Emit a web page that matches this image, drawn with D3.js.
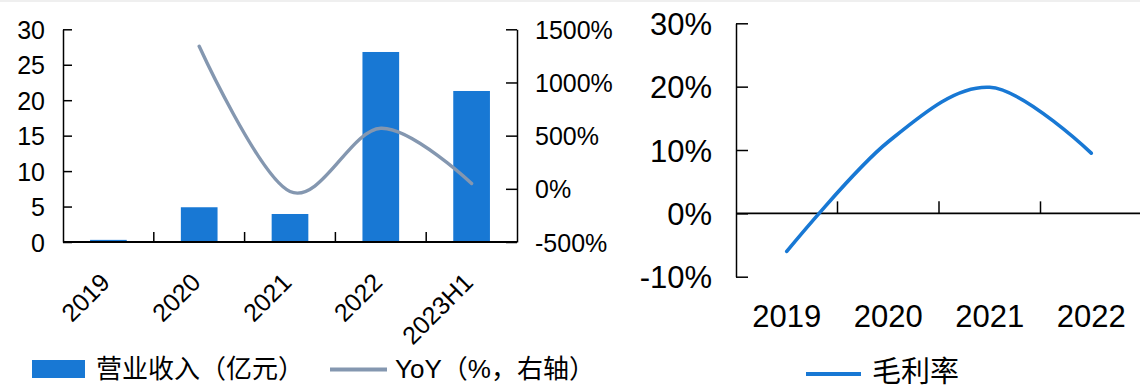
<!DOCTYPE html>
<html>
<head>
<meta charset="utf-8">
<script src="https://cdn.jsdelivr.net/npm/d3@7"></script>
<style>
  html, body { margin: 0; padding: 0; background: #fff; }
  svg { display: block; }
  text { font-family: "Liberation Sans", Arial, "Noto Sans CJK SC", sans-serif; fill: #000; }
</style>
</head>
<body>
<svg id="chart" width="1140" height="387"></svg>
<script>
// Revenue and growth
const years = ["2019", "2020", "2021", "2022", "2023H1"];
const revenue = [0.3, 4.9, 3.95, 26.8, 21.3];            // 亿元
const yoyYears = ["2020", "2021", "2022", "2023H1"];
const yoy = [1340, -25, 570, 50];                          // %
const revenueTicks = [0, 5, 10, 15, 20, 25, 30];
const yoyTicks = [-500, 0, 500, 1000, 1500];

// Gross margin
const marginYears = ["2019", "2020", "2021", "2022"];
const margin = [-6.0, 11.3, 19.9, 9.5];                    // %
const marginTicks = [-10, 0, 10, 20, 30];

const blue = "#1878D4";
const slate = "#8497B0";

const svg = d3.select("#chart");

// thin grey strip along the top edge
svg.append("rect").attr("x", 0).attr("y", 0).attr("width", 1140).attr("height", 2).attr("fill", "#efefef");

// ---------- left panel: revenue bars + YoY line ----------
const L = { x0: 63, x1: 517, top: 29.3, base: 242 };
const x = d3.scaleBand().domain(years).range([L.x0, L.x1]).padding(0);
const yL = d3.scaleLinear().domain([0, 30]).range([L.base, L.top]);
const yR = d3.scaleLinear().domain([-500, 1500]).range([L.base, L.top]);

const left = svg.append("g");
const barW = x.bandwidth() * 0.404;

left.selectAll("rect.bar").data(years).join("rect")
  .attr("class", "bar")
  .attr("x", d => x(d) + (x.bandwidth() - barW) / 2)
  .attr("width", barW)
  .attr("y", (d, i) => yL(revenue[i]))
  .attr("height", (d, i) => yL(0) - yL(revenue[i]))
  .attr("fill", blue);

const yoyLine = d3.line()
  .x((d, i) => x(yoyYears[i]) + x.bandwidth() / 2)
  .y(d => yR(d))
  .curve(d3.curveCardinal.tension(0));

left.append("path").datum(yoy)
  .attr("d", yoyLine)
  .attr("fill", "none")
  .attr("stroke", slate)
  .attr("stroke-width", 3.4)
  .attr("stroke-linecap", "round");

// left axis
const axL = left.append("g").attr("transform", `translate(${L.x0},0)`)
  .call(d3.axisLeft(yL).tickValues(revenueTicks).tickSize(-9).tickSizeOuter(0).tickPadding(18));
// right axis
const axR = left.append("g").attr("transform", `translate(${L.x1},0)`)
  .call(d3.axisRight(yR).tickValues(yoyTicks).tickSize(-11).tickSizeOuter(0).tickPadding(18)
    .tickFormat(d => d + "%"));
[axL, axR].forEach(a => {
  a.attr("font-size", null).attr("font-family", null);
  a.selectAll("path.domain").attr("stroke", "#000").attr("stroke-width", 1.5);
  a.selectAll(".tick line").attr("stroke", "#000").attr("stroke-width", 1.5);
  a.selectAll(".tick text").style("font-size", "25px").attr("dy", "0.36em");
});

// category axis
left.append("line")
  .attr("x1", L.x0).attr("x2", L.x1).attr("y1", L.base).attr("y2", L.base)
  .attr("stroke", "#000").attr("stroke-width", 1.8);
left.selectAll("line.xtick").data(years.slice(1)).join("line")
  .attr("class", "xtick")
  .attr("x1", d => x(d)).attr("x2", d => x(d))
  .attr("y1", L.base).attr("y2", L.base - 10)
  .attr("stroke", "#000").attr("stroke-width", 1.5);
left.selectAll("text.xlab").data(years).join("text")
  .attr("class", "xlab")
  .attr("transform", d => `translate(${x(d) + x.bandwidth() / 2 + 3},284) rotate(-45)`)
  .attr("text-anchor", "end")
  .style("font-size", "25px")
  .text(d => d);

// legend (left)
const lg = svg.append("g");
lg.append("rect").attr("x", 32).attr("y", 360).attr("width", 53).attr("height", 18).attr("fill", blue);
lg.append("text").attr("x", 96).attr("y", 369).attr("dy", "0.36em").style("font-size", "26px")
  .text("营业收入（亿元）");
lg.append("line").attr("x1", 330).attr("x2", 387).attr("y1", 369.5).attr("y2", 369.5)
  .attr("stroke", slate).attr("stroke-width", 4);
lg.append("text").attr("x", 395).attr("y", 369).attr("dy", "0.36em").style("font-size", "26px")
  .text("YoY（%，右轴）");

// ---------- right panel: gross margin ----------
const R = { x0: 736, x1: 1142, top: 23.3, bottom: 276.7 };
const gx = d3.scaleBand().domain(marginYears).range([R.x0, R.x1]).padding(0);
const gy = d3.scaleLinear().domain([-10, 30]).range([R.bottom, R.top]);

const right = svg.append("g");
const axG = right.append("g").attr("transform", `translate(${R.x0},0)`)
  .call(d3.axisLeft(gy).tickValues(marginTicks).tickSize(-12).tickSizeOuter(0).tickPadding(24)
    .tickFormat(d => d + "%"));
axG.attr("font-size", null).attr("font-family", null);
axG.selectAll("path.domain").attr("stroke", "#000").attr("stroke-width", 1.5);
axG.selectAll(".tick line").attr("stroke", "#000").attr("stroke-width", 1.5);
axG.selectAll(".tick text").style("font-size", "31px").attr("dy", "0.36em");

right.append("line")
  .attr("x1", R.x0).attr("x2", 1140).attr("y1", gy(0)).attr("y2", gy(0))
  .attr("stroke", "#000").attr("stroke-width", 1.8);
right.selectAll("line.gtick").data(marginYears.slice(1)).join("line")
  .attr("class", "gtick")
  .attr("x1", d => gx(d)).attr("x2", d => gx(d))
  .attr("y1", gy(0)).attr("y2", gy(0) - 12)
  .attr("stroke", "#000").attr("stroke-width", 1.5);
right.selectAll("text.glab").data(marginYears).join("text")
  .attr("class", "glab")
  .attr("x", d => gx(d) + gx.bandwidth() / 2)
  .attr("y", 327)
  .attr("text-anchor", "middle")
  .style("font-size", "31px")
  .text(d => d);

const marginLine = d3.line()
  .x((d, i) => gx(marginYears[i]) + gx.bandwidth() / 2)
  .y(d => gy(d))
  .curve(d3.curveCardinal.tension(0));
right.append("path").datum(margin)
  .attr("d", marginLine)
  .attr("fill", "none")
  .attr("stroke", blue)
  .attr("stroke-width", 3.6)
  .attr("stroke-linecap", "round");

// legend (right)
right.append("line").attr("x1", 806).attr("x2", 861).attr("y1", 374).attr("y2", 374)
  .attr("stroke", blue).attr("stroke-width", 4);
right.append("text").attr("x", 872).attr("y", 372).attr("dy", "0.36em").style("font-size", "29px")
  .text("毛利率");
</script>
</body>
</html>
